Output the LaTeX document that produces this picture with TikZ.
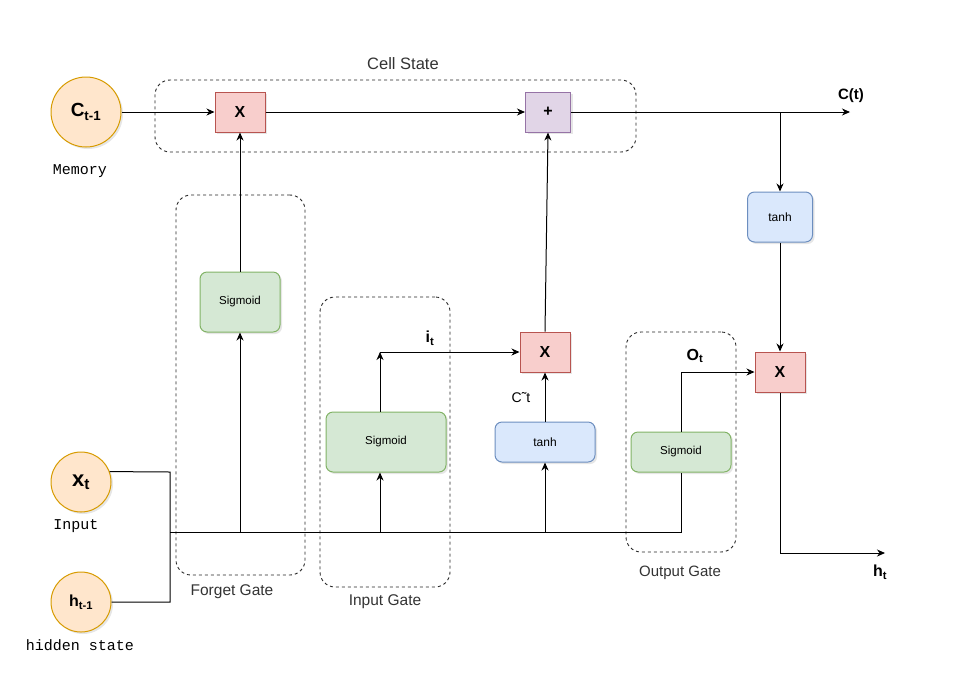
\documentclass[tikz,border=0pt]{standalone}
\usepackage{fontspec}
\setmainfont{Liberation Sans}
\newfontfamily\monofont{Liberation Mono}
\usepackage{tikz}
\usetikzlibrary{arrows.meta}
\usetikzlibrary{shadows}

\begin{document}
\begin{tikzpicture}[x=1pt, y=-1pt,
        ombra/.style={drop shadow={opacity=0.2, shadow xshift=2pt, shadow yshift=-2pt}},
        freccia/.style={-{Stealth[length=8pt, width=7pt, inset=2.5pt]}, line width=1pt},
        linea/.style={line width=1pt},
        cerchio/.style={circle, draw=memst, fill=memfill, line width=1pt, inner sep=0pt, ombra},
        prodotto/.style={draw=redst, fill=redfill, minimum width=50pt, minimum height=40pt, inner sep=0pt, line width=1pt, font=\fontsize{16}{18}\selectfont\bfseries, ombra},
        somma/.style={prodotto, draw=purst, fill=purfill, minimum width=45pt},
        sigmoide/.style={draw=grnst, fill=grnfill, rounded corners=7pt, inner sep=0pt, line width=1pt, font=\fontsize{11.5}{13}\selectfont, ombra},
        tangente/.style={sigmoide, draw=blust, fill=blufill, font=\fontsize{12}{14}\selectfont},
        porta/.style={draw=black!85, dash pattern=on 3pt off 3pt, rounded corners=15pt, line width=0.9pt, inner sep=0pt},
        etichetta/.style={text=black!80, font=\fontsize{15.5}{18}\selectfont},
        mono/.style={font=\monofont\fontsize{15}{17}\selectfont},
        simbolo/.style={font=\fontsize{16}{18}\selectfont\bfseries}
    ]
        % Colori dei blocchi
        \definecolor{memfill}{HTML}{FFE6CC}
        \definecolor{memst}{HTML}{D79B00}
        \definecolor{redfill}{HTML}{F8CECC}
        \definecolor{redst}{HTML}{B85450}
        \definecolor{purfill}{HTML}{E1D5E7}
        \definecolor{purst}{HTML}{9673A6}
        \definecolor{grnfill}{HTML}{D5E8D4}
        \definecolor{grnst}{HTML}{82B366}
        \definecolor{blufill}{HTML}{DAE8FC}
        \definecolor{blust}{HTML}{6C8EBF}
        \useasboundingbox (0,0) rectangle (957,689);

        % Riquadri tratteggiati delle porte
        \node (cellBox) at (395.5,116) [porta, minimum width=481pt, minimum height=72pt]{};
        \node (forgetBox) at (240.5,385) [porta, minimum width=129pt, minimum height=380pt]{};
        \node (inputBox) at (385,442) [porta, minimum width=130pt, minimum height=290pt]{};
        \node (outputBox) at (681,442) [porta, minimum width=110pt, minimum height=220pt]{};
        \node (cellLbl) at (403,64) [etichetta, font=\fontsize{16.5}{19}\selectfont]{Cell State};
        \node (forgetLbl) at (232,592) [etichetta]{Forget Gate};
        \node (inputLbl) at (385,602) [etichetta]{Input Gate};
        \node (outputLbl) at (680,573) [etichetta, font=\fontsize{15}{18}\selectfont]{Output Gate};

        % Ingressi
        \node (mem) at (86,112) [cerchio, minimum size=70pt, font=\fontsize{19}{21}\selectfont\bfseries]{C\textsubscript{t-1}};
        \node (xin) at (81,482) [cerchio, minimum size=60pt, font=\fontsize{22}{24}\selectfont\bfseries]{x\textsubscript{t}};
        \node (hprev) at (81,602) [cerchio, minimum size=60pt, font=\fontsize{16}{18}\selectfont\bfseries]{h\textsubscript{t-1}};
        \node (memLbl) at (80,171) [mono]{Memory};
        \node (inLbl) at (76,526) [mono]{Input};
        \node (hidLbl) at (80,645) [mono]{hidden state};

        % Operazioni
        \node (mulF) at (240,112) [prodotto]{X};
        \node (add) at (548,112) [somma]{+};
        \node (mulI) at (545,352) [prodotto]{X};
        \node (mulO) at (780,372) [prodotto]{X};
        \node (sigF) at (240,302) [sigmoide, minimum width=80pt, minimum height=60pt]{Sigmoid};
        \node (sigI) at (386,442) [sigmoide, minimum width=120pt, minimum height=60pt]{Sigmoid};
        \node (tanhI) at (545,442) [tangente, minimum width=100pt, minimum height=40pt]{tanh};
        \node (sigO) at (681,452) [sigmoide, minimum width=100pt, minimum height=40pt]{Sigmoid};
        \node (tanhO) at (780,217) [tangente, minimum width=65pt, minimum height=50pt]{tanh};

        % Simboli
        \node (ctLbl) at (851,96) [simbolo, font=\fontsize{15}{17}\selectfont\bfseries]{C(t)};
        \node (htLbl) at (880,572) [simbolo]{h\textsubscript{t}};
        \node (itLbl) at (430,338) [simbolo]{i\textsubscript{t}};
        \node (otLbl) at (695,356) [simbolo]{O\textsubscript{t}};
        \node (ctilLbl) at (521,398) [font=\fontsize{14}{16}\selectfont]{C˜t};

        % Collegamenti
        \coordinate (nodoA) at (170,472);
        \coordinate (nodoB) at (170,532);
        \coordinate (nodoC) at (170,602);
        \coordinate (it) at (380,352);
        \coordinate (ramo) at (780,112);
        \coordinate (uscitaC) at (850,112);
        \coordinate (uscitaH) at (885,553);
        \draw[linea] (xin.20) -- (nodoA) -- (nodoC) -- (hprev.east);
        \draw[linea] (nodoB) -| (sigO.south);
        \draw[freccia] (nodoB -| sigF.south) -- (sigF.south);
        \draw[freccia] (nodoB -| it) -- (sigI.south -| it);
        \draw[freccia] (nodoB -| tanhI.south) -- (tanhI.south);
        \draw[freccia] (sigI.north -| it) -- (it);
        \draw[freccia] (it) -- (mulI);
        \draw[freccia] (tanhI) -- (mulI);
        \draw[freccia] (mulI.north) -- (add.south);
        \draw[freccia] (sigF) -- (mulF);
        \draw[freccia] (mem) -- (mulF);
        \draw[freccia] (mulF) -- (add);
        \draw[freccia] (add) -- (uscitaC);
        \draw[freccia] (ramo) -- (tanhO);
        \draw[freccia] (tanhO) -- (mulO);
        \draw[freccia] (sigO) |- (mulO);
        \draw[freccia] (mulO) |- (uscitaH);
    \end{tikzpicture}
\end{document}
